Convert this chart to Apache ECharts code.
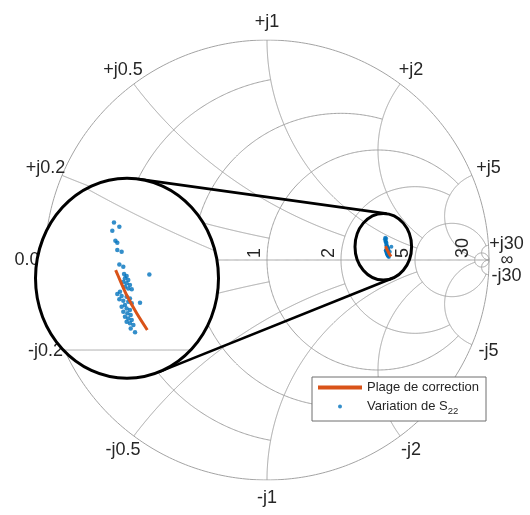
<!DOCTYPE html>
<html><head><meta charset="utf-8">
<script src="https://cdn.jsdelivr.net/npm/echarts@6/dist/echarts.min.js"></script>
<style>html,body{margin:0;padding:0;background:#fff}#c{width:530px;height:515px}</style>
</head><body><div id="c"></div>
<script>
// ---------------- data ----------------
const gridValues = [0.2, 0.5, 1, 2, 5, 30];
const gridLimits = [1, 2, 5, 5, 30, Infinity];
const resistanceLabels = ['0.2', '0.5', '1', '2', '5', '30'];
const reactancePosLabels = ['+j0.2', '+j0.5', '+j1', '+j2', '+j5', '+j30'];
const reactanceNegLabels = ['-j0.2', '-j0.5', '-j1', '-j2', '-j5', '-j30'];
const endLabels = ['0.0', '\u221e'];
const seriesNames = ['Plage de correction', 'Variation de S22'];

// S22 variation (reflection coefficient, real / imaginary)
const s22Re = [0.5326,0.5368,0.5313,0.5337,0.5352,0.5352,0.5386,0.5368,0.5399,0.5405,0.5425,0.5412,0.5438,0.5399,0.5425,0.5451,0.5412,0.5438,0.5465,0.5373,0.5352,0.5386,0.5425,0.5451,0.5368,0.5399,0.5438,0.5465,0.5412,0.5386,0.5425,0.5451,0.5399,0.5431,0.5457,0.5412,0.5438,0.5465,0.5425,0.5451,0.5478,0.5603,0.5530,0.5491,0.5457];
const s22Im = [0.1009,0.0975,0.0943,0.0864,0.0848,0.0791,0.0777,0.0677,0.0659,0.0601,0.0585,0.0567,0.0553,0.0540,0.0527,0.0514,0.0501,0.0487,0.0480,0.0461,0.0443,0.0427,0.0422,0.0408,0.0401,0.0390,0.0382,0.0369,0.0356,0.0343,0.0329,0.0316,0.0303,0.0290,0.0277,0.0264,0.0250,0.0237,0.0224,0.0211,0.0198,0.0598,0.0374,0.0140,0.0171];
// correction range
const corrRe = [0.5339, 0.5373, 0.5425, 0.5504, 0.5587];
const corrIm = [0.0632, 0.0553, 0.0435, 0.0290, 0.0158];

// ---------------- layout ----------------
const MAIN = {left: 45, top: 40, width: 444, height: 440};
const INSET = {cx: 127, cy: 278.3, rx: 91.5, ry: 100, gx: 0.5428, gy: 0.0567, sx: 1276.5, sy: 1265};
const SRC = {cx: 383.3, cy: 246.7, rx: 28.3, ry: 33.3};
const GRID_COLOR = '#a3a3a3';
const TEXT_COLOR = '#262626';
const BLUE = '#0072BD', ORANGE = '#D95319';
const FONT = 'Liberation Sans, Arial, sans-serif';
const LABEL_FONT = '18px ' + FONT;

// ---------------- smith grid geometry ----------------
function z2g(r, x) {
  const nr = r - 1, dr = r + 1, d = dr * dr + x * x;
  return [(nr * dr + x * x) / d, (x * dr - nr * x) / d];
}
const TAU = 2 * Math.PI;
const norm = a => ((a % TAU) + TAU) % TAU;
function resCircle(v, L, N) {
  const c = v / (1 + v), rad = 1 / (1 + v);
  let t0 = 0;
  if (isFinite(L)) { const g = z2g(v, L); t0 = Math.atan2(g[1], g[0] - c); }
  const pts = [];
  for (let i = 0; i <= N; i++) { const t = t0 + (TAU - 2 * t0) * i / N; pts.push([c + rad * Math.cos(t), rad * Math.sin(t)]); }
  return pts;
}
function reactArc(v, L, s, N) {
  const cy = 1 / v, rad = 1 / v;
  const g0 = z2g(0, v); const a0 = norm(Math.atan2(g0[1] - cy, g0[0] - 1));
  let a1 = 1.5 * Math.PI;
  if (isFinite(L)) { const g1 = z2g(L, v); a1 = norm(Math.atan2(g1[1] - cy, g1[0] - 1)); }
  const pts = [];
  for (let i = 0; i <= N; i++) { const a = a0 + (a1 - a0) * i / N; pts.push([1 + rad * Math.cos(a), s * (cy + rad * Math.sin(a))]); }
  return pts;
}
function allGridLines(N) {
  const lines = [];
  const rim = []; for (let i = 0; i <= N; i++) { const t = TAU * i / N; rim.push([Math.cos(t), Math.sin(t)]); }
  lines.push(rim);
  const axis = []; for (let i = 0; i <= N; i++) axis.push([-1 + 2 * i / N, 0]);
  lines.push(axis);
  gridValues.forEach((v, k) => {
    lines.push(resCircle(v, gridLimits[k], N));
    lines.push(reactArc(v, gridLimits[k], 1, N));
    lines.push(reactArc(v, gridLimits[k], -1, N));
  });
  return lines;
}
const mainGrid = allGridLines(400).map(p => ({coords: p}));
// inset: same grid, clipped to the inset ellipse
const iax = INSET.rx / INSET.sx, iay = INSET.ry / INSET.sy;
const insideInset = p => Math.pow((p[0] - INSET.gx) / iax, 2) + Math.pow((p[1] - INSET.gy) / iay, 2) <= 1;
const insetGrid = [];
allGridLines(6000).forEach(line => {
  let seg = [];
  line.forEach(p => {
    if (insideInset(p)) seg.push(p);
    else { if (seg.length > 1) insetGrid.push({coords: seg}); seg = []; }
  });
  if (seg.length > 1) insetGrid.push({coords: seg});
});

const s22Data = s22Re.map((r, i) => [r, s22Im[i]]);
const corrData = corrRe.map((r, i) => [r, corrIm[i]]);

// ---------------- chart ----------------
const chart = echarts.init(document.getElementById('c'), null, {renderer: 'canvas'});
const hiddenAxis = (min, max, gi) => ({type: 'value', min, max, show: false, gridIndex: gi});
const option = {
  animation: false,
  backgroundColor: '#fff',
  textStyle: {fontFamily: FONT},
  grid: [
    Object.assign({}, MAIN),
    {left: INSET.cx - INSET.rx, top: INSET.cy - INSET.ry, width: 2 * INSET.rx, height: 2 * INSET.ry}
  ],
  xAxis: [hiddenAxis(-1, 1, 0), hiddenAxis(INSET.gx - iax, INSET.gx + iax, 1)],
  yAxis: [hiddenAxis(-1, 1, 0), hiddenAxis(INSET.gy - iay, INSET.gy + iay, 1)],
  legend: {
    orient: 'vertical', left: 312, top: 377, z: 20,
    backgroundColor: '#fff', borderColor: '#6e6e6e', borderWidth: 1,
    padding: [4, 7, 5, 6], itemGap: 3, itemWidth: 44, itemHeight: 4,
    selectedMode: false,
    data: [{name: seriesNames[0], icon: 'rect'}, {name: seriesNames[1], icon: 'circle'}],
    formatter: n => n === seriesNames[1] ? '{t|Variation de S}{s|22}' : '{t|' + n + '}',
    textStyle: {color: TEXT_COLOR, fontFamily: FONT, rich: {
      t: {fontSize: 13, lineHeight: 17, fontFamily: FONT, color: TEXT_COLOR},
      s: {fontSize: 9.5, lineHeight: 17, fontFamily: FONT, color: TEXT_COLOR, padding: [9, 0, 0, 0]}
    }}
  },
  series: [
    {type: 'lines', coordinateSystem: 'cartesian2d', xAxisIndex: 0, yAxisIndex: 0, polyline: true, silent: true, z: 1,
     lineStyle: {color: GRID_COLOR, width: 1, opacity: 1}, data: mainGrid},
    {name: seriesNames[1], type: 'scatter', xAxisIndex: 0, yAxisIndex: 0, z: 2, symbolSize: 4, silent: true,
     itemStyle: {color: BLUE}, data: s22Data},
    {name: seriesNames[0], type: 'line', xAxisIndex: 0, yAxisIndex: 0, z: 3, symbol: 'none', smooth: 0.3, silent: true,
     lineStyle: {color: ORANGE, width: 3}, itemStyle: {color: ORANGE}, data: corrData},
    {type: 'lines', coordinateSystem: 'cartesian2d', xAxisIndex: 1, yAxisIndex: 1, polyline: true, silent: true, z: 6,
     lineStyle: {color: GRID_COLOR, width: 1, opacity: 1}, data: insetGrid},
    {name: seriesNames[1], type: 'scatter', xAxisIndex: 1, yAxisIndex: 1, z: 7, symbolSize: 4.5, silent: true,
     itemStyle: {color: BLUE}, data: s22Data},
    {name: seriesNames[0], type: 'line', xAxisIndex: 1, yAxisIndex: 1, z: 8, symbol: 'none', smooth: 0.3, silent: true,
     lineStyle: {color: ORANGE, width: 3}, itemStyle: {color: ORANGE}, data: corrData}
  ]
};
chart.setOption(option);

// ---------------- labels & inset decorations ----------------
const toPx = g => chart.convertToPixel({gridIndex: 0}, g);
const center = toPx([0, 0]);
const graphics = [];
const OFF = 18;
function outwardLabel(text, g) {
  const p = toPx(g);
  const dx = p[0] - center[0], dy = p[1] - center[1], L = Math.hypot(dx, dy);
  graphics.push({type: 'text', z: 1, silent: true, x: p[0] + OFF * dx / L, y: p[1] + OFF * dy / L,
    style: {text, fill: TEXT_COLOR, font: LABEL_FONT, align: 'center', verticalAlign: 'middle'}});
}
gridValues.forEach((v, k) => {
  outwardLabel(reactancePosLabels[k], z2g(0, v));
  outwardLabel(reactanceNegLabels[k], z2g(0, -v));
  const p = toPx([(v - 1) / (v + 1), 0]);
  graphics.push({type: 'text', z: 1, silent: true, x: p[0] - 3, y: p[1] - 2, rotation: Math.PI / 2,
    style: {text: resistanceLabels[k], fill: TEXT_COLOR, font: LABEL_FONT, align: 'left', verticalAlign: 'bottom'}});
});
outwardLabel(endLabels[0], [-1, 0]);
outwardLabel(endLabels[1], [1, 0]);

// connector lines: common external tangents of the two circles
function support(e, nx, ny) {
  const t = Math.atan2(ny * e.ry, nx * e.rx);
  return [e.cx + e.rx * Math.cos(t), e.cy + e.ry * Math.sin(t)];
}
function tangent(A, B, side) {
  let p = [A.cx, A.cy + side * A.ry], q = [B.cx, B.cy + side * B.ry];
  for (let k = 0; k < 60; k++) {
    const dx = q[0] - p[0], dy = q[1] - p[1], L = Math.hypot(dx, dy);
    let nx = dy / L, ny = -dx / L;
    if (ny * side < 0) { nx = -nx; ny = -ny; }
    p = support(A, nx, ny); q = support(B, nx, ny);
  }
  return [p, q];
}
[-1, 1].forEach(side => {
  const [p, q] = tangent(INSET, SRC, side);
  graphics.push({type: 'line', z: 4, silent: true, shape: {x1: p[0], y1: p[1], x2: q[0], y2: q[1]},
    style: {stroke: '#000', lineWidth: 2.6}});
});
graphics.push({type: 'ellipse', z: 5, silent: true, shape: {cx: INSET.cx, cy: INSET.cy, rx: INSET.rx, ry: INSET.ry},
  style: {fill: '#fff', stroke: null}});
graphics.push({type: 'ellipse', z: 9, silent: true, shape: {cx: INSET.cx, cy: INSET.cy, rx: INSET.rx, ry: INSET.ry},
  style: {fill: null, stroke: '#000', lineWidth: 3}});
graphics.push({type: 'ellipse', z: 9, silent: true, shape: {cx: SRC.cx, cy: SRC.cy, rx: SRC.rx, ry: SRC.ry},
  style: {fill: null, stroke: '#000', lineWidth: 3}});
chart.setOption({graphic: {elements: graphics}});
</script></body></html>
